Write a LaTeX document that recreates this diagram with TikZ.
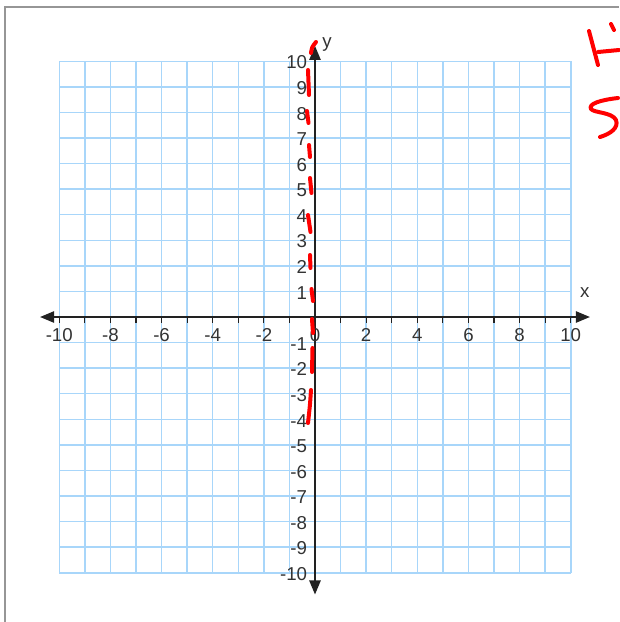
\documentclass[tikz,border=0pt]{standalone}
\usepackage{fontspec}
\setmainfont{Liberation Sans}
\usetikzlibrary{arrows.meta}
\definecolor{gridblue}{RGB}{168,214,250}
\definecolor{axisgray}{RGB}{34,34,34}
\definecolor{labelgray}{RGB}{51,51,51}
\definecolor{framegray}{RGB}{150,150,150}
\definecolor{ink}{RGB}{255,0,0}
\tikzset{
  gridline/.style={draw=gridblue, line width=1.15pt},
  axisline/.style={draw=axisgray, line width=1.1pt, {Triangle[length=10.5pt,width=8.5pt]}-{Triangle[length=10.5pt,width=8.5pt]}},
  tickmark/.style={draw=axisgray, line width=0.9pt},
  numlabel/.style={text=labelgray, font=\fontsize{14pt}{15pt}\selectfont, inner sep=0pt},
  redstroke/.style={draw=ink, line width=3pt, line cap=round, line join=round},
  framestyle/.style={draw=framegray, line width=1.5pt}
}
\begin{document}
\begin{tikzpicture}[x=0.75pt, y=-0.75pt]
\useasboundingbox (0,0) rectangle (619,622);
\fill[white] (0,0) rectangle (619,622);
% frame
\coordinate (fbl) at (5,622);
\coordinate (ftl) at (5,7);
\coordinate (ftr) at (619,7);
\draw[framestyle] (fbl) -- (ftl) -- (ftr);
\begin{scope}[shift={(315,317)}, x=19.18pt, y=19.18pt]
  % grid
  \foreach \i in {-10,...,10} {
    \draw[gridline] (\i,-10) -- (\i,10);
    \draw[gridline] (-10,\i) -- (10,\i);
  }
  % axes
  \coordinate (xl) at (-10.75,0);
  \coordinate (xr) at (10.75,0);
  \coordinate (yb) at (0,-10.85);
  \coordinate (yt) at (0,10.6);
  \draw[axisline] (xl) -- (xr);
  \draw[axisline] (yb) -- (yt);
  % ticks on x axis
  \foreach \i in {-10,...,10} {
    \draw[tickmark] (\i,0) -- (\i,-0.25);
  }
  % x labels
  \foreach \i in {-10,-8,...,10} {
    \node[numlabel] (xlab\i) at (\i,-0.7) {\i};
  }
  % y labels
  \foreach \i in {-10,...,-1,1,2,...,10} {
    \node[numlabel, anchor=east] (ylab\i) at (-0.3,\i-0.05) {\i};
  }
  \node[numlabel] (xname) at (10.55,0.95) {x};
  \node[numlabel] (yname) at (0.47,10.65) {y};
\end{scope}
% red hand-drawn strokes
\draw[redstroke] (311,53) .. controls (312,47) .. (316,42);
\draw[redstroke] (308,70) .. controls (309,82) .. (309,95);
\draw[redstroke] (307,111) -- (308.5,123);
\draw[redstroke] (309,145) -- (310,157);
\draw[redstroke] (310,178) -- (311.5,193);
\draw[redstroke] (308,215) -- (310.5,232);
\draw[redstroke] (310,255) -- (310.5,268);
\draw[redstroke] (311.5,289) -- (313,301);
\draw[redstroke] (312,319) -- (313,333);
\draw[redstroke] (312.5,348) -- (312,372);
\draw[redstroke] (311,390) .. controls (310,405) .. (308,423);
% top right letters
\draw[redstroke] (589,31) .. controls (594,48) .. (598,65);
\draw[redstroke] (598,52) -- (619,50);
\draw[redstroke] (611,24) -- (614,30);
\draw[redstroke] (618,98) .. controls (600,100) and (588,104) .. (591,109)
  .. controls (594,113) and (612,112) .. (616,120)
  .. controls (619,128) and (610,134) .. (600,137);
\end{tikzpicture}
\end{document}
